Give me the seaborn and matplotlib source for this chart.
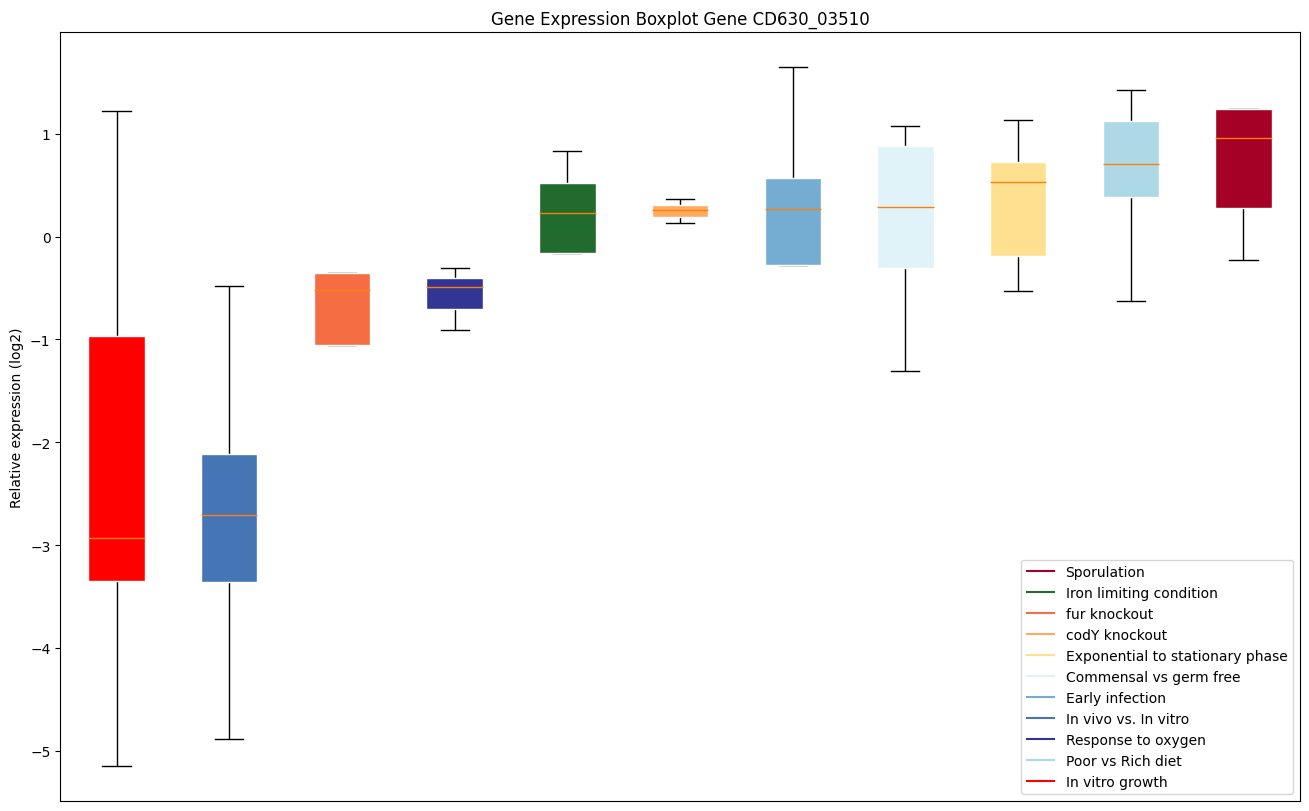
import numpy as np
import pandas as pd
import matplotlib
matplotlib.use("Agg")
import matplotlib.pyplot as plt
import seaborn as sns
from matplotlib.lines import Line2D

# Conditions in plotting order (left to right)
conditions = [
    "In vitro growth", "In vivo vs. In vitro", "fur knockout", "Response to oxygen",
    "Iron limiting condition", "codY knockout", "Early infection",
    "Commensal vs germ free", "Exponential to stationary phase",
    "Poor vs Rich diet", "Sporulation",
]
colors = [
    "#ff0000", "#4575b4", "#f46d43", "#313695", "#226b2e", "#fdab5e",
    "#74add1", "#e0f3f8", "#fee090", "#add8e6", "#a50026",
]
# Five-number summaries: min, q1, median, q3, max
whisker_low = [-5.15, -4.89, -1.05, -0.91, -0.16, 0.13, -0.28, -1.31, -0.53, -0.63, -0.23]
q1 = [-3.35, -3.36, -1.05, -0.70, -0.16, 0.19, -0.28, -0.31, -0.19, 0.39, 0.28]
median = [-2.93, -2.71, -0.52, -0.49, 0.23, 0.26, 0.27, 0.29, 0.53, 0.71, 0.96]
q3 = [-0.97, -2.11, -0.35, -0.40, 0.52, 0.31, 0.57, 0.88, 0.73, 1.12, 1.24]
whisker_high = [1.22, -0.48, -0.35, -0.31, 0.83, 0.37, 1.65, 1.08, 1.13, 1.43, 1.24]

legend_order = [
    "Sporulation", "Iron limiting condition", "fur knockout", "codY knockout",
    "Exponential to stationary phase", "Commensal vs germ free", "Early infection",
    "In vivo vs. In vitro", "Response to oxygen", "Poor vs Rich diet", "In vitro growth",
]

rows = []
for i, c in enumerate(conditions):
    for v in (whisker_low[i], q1[i], median[i], q3[i], whisker_high[i]):
        rows.append({"condition": c, "value": v})
df = pd.DataFrame(rows)
palette = dict(zip(conditions, colors))

fig = plt.figure(figsize=(13.09, 8.12), dpi=100)
ax = fig.add_axes([0.046, 0.0123, 0.947, 0.947])

sns.boxplot(
    data=df, x="condition", y="value", hue="condition", order=conditions,
    hue_order=conditions, palette=palette, width=0.5, whis=(0, 100),
    linecolor="white", linewidth=1, saturation=1, legend=False, dodge=False,
    ax=ax,
    medianprops=dict(color="#ff7f0e", linewidth=1, zorder=3),
    whiskerprops=dict(color="black", linewidth=1, zorder=1.5),
    capprops=dict(color="black", linewidth=1, zorder=1.5),
    boxprops=dict(edgecolor="white", linewidth=1, zorder=2),
)

ax.set_xticks([])
ax.set_xlabel("")
ax.set_ylabel("Relative expression (log2)")
ax.set_title("Gene Expression Boxplot Gene CD630_03510")
ax.set_xlim(-0.5, len(conditions) - 0.5)
lo = min(whisker_low); hi = max(whisker_high); pad = 0.05 * (hi - lo)
ax.set_ylim(lo - pad, hi + pad)

handles = [Line2D([0], [0], color=palette[c], lw=1.5) for c in legend_order]
ax.legend(handles, legend_order, loc="lower right")

fig.savefig("out.png", dpi=100)
